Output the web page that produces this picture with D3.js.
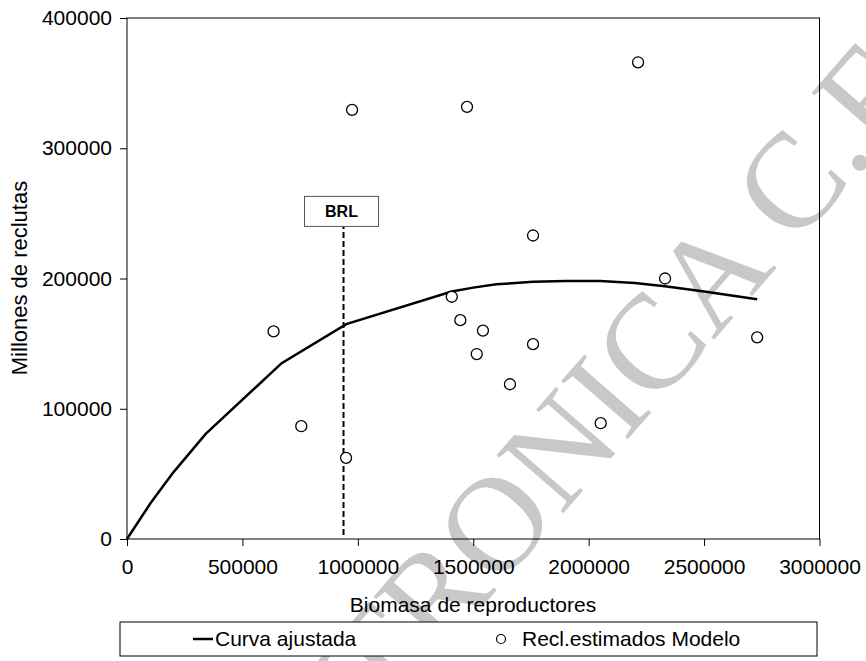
<!DOCTYPE html>
<html>
<head>
<meta charset="utf-8">
<script src="https://cdn.jsdelivr.net/npm/d3@7"></script>
<style>
  body { margin: 0; background: #fff; }
  svg { display: block; font-family: "Liberation Sans", Arial, sans-serif; }
</style>
</head>
<body>
<svg id="chart" width="866" height="661"></svg>
<script>
// observed points (biomasa, reclutas)
const biomasa  = [975000, 1473000, 2214000, 1759000, 2331000, 1407000, 1444000, 1542000, 1515000, 1759000, 1659000, 2730000, 2052000, 635000, 755000, 949000]
const reclutas = [329500, 331800, 366000, 233000, 200000, 186000, 168000, 160000, 142000, 149600, 118800, 154800, 88900, 159400, 86600, 62300]

// fitted curve
const curvaX = [0, 100000, 200000, 340000, 670000, 950000, 1407000, 1500000, 1600000, 1760000, 1900000, 2050000, 2200000, 2330000, 2500000, 2730000]
const curvaY = [0, 27000, 51000, 80500, 135000, 165000, 190000, 193000, 195500, 197500, 198000, 198000, 196500, 194000, 190000, 184000]

const brl = 938000
const brlTop = 240000

const xTicks = [0, 500000, 1000000, 1500000, 2000000, 2500000, 3000000]
const yTicks = [0, 100000, 200000, 300000, 400000]

const margin = { top: 18, left: 127 }
const W = 692.5, H = 521
const fs = 21

const svg = d3.select('#chart')

// watermark
svg.append('text')
  .attr('transform', 'translate(940,80) rotate(-49)')
  .attr('text-anchor', 'end')
  .attr('font-family', '"Liberation Serif", "Times New Roman", serif')
  .attr('font-size', 135)
  .attr('fill', '#c8c8c8')
  .text('ELECTRONICA C.F.')

const g = svg.append('g').attr('transform', `translate(${margin.left},${margin.top})`)

const x = d3.scaleLinear().domain([0, 3000000]).range([0, W])
const y = d3.scaleLinear().domain([0, 400000]).range([H, 0])

// frame
g.append('rect')
  .attr('width', W).attr('height', H)
  .attr('fill', 'none').attr('stroke', '#000').attr('stroke-width', 1)

const xAxis = g.append('g')
  .attr('transform', `translate(0,${H})`)
  .call(d3.axisBottom(x).tickValues(xTicks).tickFormat(d3.format('d')).tickSize(7).tickSizeOuter(0))
const yAxis = g.append('g')
  .call(d3.axisLeft(y).tickValues(yTicks).tickFormat(d3.format('d')).tickSize(7).tickSizeOuter(0))

;[xAxis, yAxis].forEach(a => {
  a.select('.domain').remove()
  a.selectAll('line').attr('stroke', '#000')
  a.selectAll('text').attr('font-size', fs).attr('fill', '#000')
    .attr('font-family', '"Liberation Sans", Arial, sans-serif')
})
xAxis.selectAll('text').attr('dy', '1.2em')
yAxis.selectAll('text').attr('dx', '-5')

// BRL line and box
g.append('line')
  .attr('x1', x(brl)).attr('x2', x(brl))
  .attr('y1', y(0) - 4).attr('y2', y(brlTop))
  .attr('stroke', '#000').attr('stroke-width', 2).attr('stroke-dasharray', '6,3')
g.append('rect')
  .attr('x', x(brl) - 39).attr('y', y(brlTop) - 30)
  .attr('width', 74).attr('height', 30)
  .attr('fill', '#fff').attr('stroke', '#555')
g.append('text')
  .attr('x', x(brl) - 2).attr('y', y(brlTop) - 9)
  .attr('text-anchor', 'middle').attr('font-weight', 'bold').attr('font-size', 16)
  .text('BRL')

// curve
const curva = curvaX.map((d, i) => [d, curvaY[i]])
g.append('path')
  .datum(curva)
  .attr('fill', 'none').attr('stroke', '#000').attr('stroke-width', 2.5)
  .attr('d', d3.line().x(d => x(d[0])).y(d => y(d[1])))

// points
g.selectAll('.pt')
  .data(biomasa.map((d, i) => [d, reclutas[i]]))
  .enter().append('circle')
  .attr('class', 'pt')
  .attr('cx', d => x(d[0])).attr('cy', d => y(d[1]))
  .attr('r', 5.5)
  .attr('fill', '#fff').attr('stroke', '#000').attr('stroke-width', 1.3)

// axis titles
svg.append('text')
  .attr('x', 473).attr('y', 612)
  .attr('text-anchor', 'middle').attr('font-size', fs)
  .text('Biomasa de reproductores')
svg.append('text')
  .attr('transform', 'translate(27,278) rotate(-90)')
  .attr('text-anchor', 'middle').attr('font-size', 22)
  .text('Millones de reclutas')

// legend
const lg = svg.append('g')
lg.append('rect')
  .attr('x', 120).attr('y', 622).attr('width', 697).attr('height', 34)
  .attr('fill', '#fff').attr('stroke', '#000')
lg.append('line')
  .attr('x1', 193).attr('x2', 213).attr('y1', 639).attr('y2', 639)
  .attr('stroke', '#000').attr('stroke-width', 2.5)
lg.append('text')
  .attr('x', 215).attr('y', 646).attr('font-size', fs)
  .text('Curva ajustada')
lg.append('circle')
  .attr('cx', 501).attr('cy', 639).attr('r', 4.5)
  .attr('fill', '#fff').attr('stroke', '#000').attr('stroke-width', 1.2)
lg.append('text')
  .attr('x', 522).attr('y', 646).attr('font-size', fs)
  .text('Recl.estimados Modelo')
</script>
</body>
</html>
